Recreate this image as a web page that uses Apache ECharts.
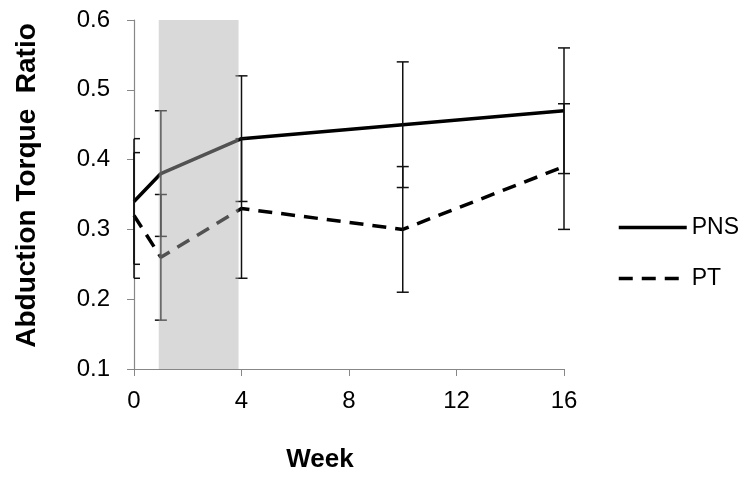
<!DOCTYPE html>
<html><head><meta charset="utf-8">
<script src="https://cdn.jsdelivr.net/npm/echarts@6/dist/echarts.min.js"></script>
<style>html,body{margin:0;padding:0;background:#fff}#c{width:751px;height:485px}</style>
</head><body><div id="c"></div>
<script>
const weeks = [0, 1, 4, 10, 16];
const pns = [0.34, 0.38, 0.43, 0.45, 0.47];
const pt = [0.32, 0.26, 0.33, 0.30, 0.39];
const pnsErr = [0.09, 0.09, 0.09, 0.09, 0.09];
const ptErr = [0.09, 0.09, 0.10, 0.09, 0.09];
const shadeWeeks = [0.92, 3.89];
const xTicks = [0, 4, 8, 12, 16];
const yTicks = [0.1, 0.2, 0.3, 0.4, 0.5, 0.6];

const FONT = 'Liberation Sans, Arial, sans-serif';
const chart = echarts.init(document.getElementById('c'));

function errData(vals, errs) {
  return weeks.map((w, i) => [w, vals[i] - errs[i], vals[i] + errs[i]]);
}
function errRender(params, api) {
  const x = api.value(0);
  const lo = api.coord([x, api.value(1)]);
  const hi = api.coord([x, api.value(2)]);
  const minX = api.coord([xTicks[0], api.value(1)])[0];
  const maxX = api.coord([xTicks[xTicks.length - 1], api.value(1)])[0];
  const hw = 6;
  const l = Math.max(lo[0] - hw, minX), r = Math.min(lo[0] + hw, maxX + hw);
  const st = { stroke: '#111', lineWidth: 1.5 };
  return { type: 'group', children: [
    { type: 'line', shape: { x1: lo[0], y1: lo[1], x2: hi[0], y2: hi[1] }, style: st },
    { type: 'line', shape: { x1: l, y1: lo[1], x2: r, y2: lo[1] }, style: st },
    { type: 'line', shape: { x1: l, y1: hi[1], x2: r, y2: hi[1] }, style: st }
  ]};
}

chart.setOption({
  animation: false,
  textStyle: { fontFamily: FONT },
  grid: { left: 134, right: 187, top: 20, bottom: 116, containLabel: false },
  legend: {
    data: ['PNS', 'PT'],
    orient: 'vertical', left: 612, top: 211,
    itemWidth: 68, itemHeight: 14, itemGap: 28,
    lineStyle: { width: 3.5 },
    itemStyle: { opacity: 0 },
    textStyle: { fontFamily: FONT, fontSize: 23, color: '#000' }
  },
  xAxis: {
    type: 'value', min: xTicks[0], max: xTicks[xTicks.length - 1], interval: 4,
    name: 'Week', nameLocation: 'middle', nameGap: 78,
    nameTextStyle: { fontFamily: FONT, fontSize: 26, fontWeight: 'bold', color: '#000', padding: [0, 58, 0, 0] },
    axisLine: { lineStyle: { color: '#878787', width: 1.2 } },
    axisTick: { show: true, length: 7, lineStyle: { color: '#878787' } },
    axisLabel: { fontFamily: FONT, fontSize: 24, color: '#000', margin: 20 },
    splitLine: { show: false }
  },
  yAxis: {
    type: 'value', min: yTicks[0], max: yTicks[yTicks.length - 1], interval: 0.1,
    name: 'Abduction Torque  Ratio', nameLocation: 'middle', nameGap: 93,
    nameTextStyle: { fontFamily: FONT, fontSize: 28, fontWeight: 'bold', color: '#000', padding: [0, 0, 0, 18] },
    axisLine: { show: true, lineStyle: { color: '#878787', width: 1.2 } },
    axisTick: { show: true, length: 7, lineStyle: { color: '#878787' } },
    axisLabel: { fontFamily: FONT, fontSize: 24, color: '#000', margin: 24, formatter: v => v.toFixed(1) },
    splitLine: { show: false }
  },
  series: [
    { name: 'PNS', type: 'line', data: weeks.map((w, i) => [w, pns[i]]), symbol: 'none',
      lineStyle: { color: '#000', width: 3.5, type: 'solid' }, itemStyle: { color: '#000' }, z: 3 },
    { name: 'PT', type: 'line', data: weeks.map((w, i) => [w, pt[i]]), symbol: 'none',
      lineStyle: { color: '#000', width: 3.5, type: [14, 9] }, itemStyle: { color: '#000' }, z: 3 },
    { name: 'PNS err', type: 'custom', data: errData(pns, pnsErr), renderItem: errRender, silent: true, z: 4 },
    { name: 'PT err', type: 'custom', data: errData(pt, ptErr), renderItem: errRender, silent: true, z: 4 },
    { name: 'shade', type: 'custom', silent: true, z: 10,
      data: [[shadeWeeks[0], shadeWeeks[1]]],
      renderItem: function (params, api) {
        const a = api.coord([api.value(0), yTicks[yTicks.length - 1]]);
        const b = api.coord([api.value(1), yTicks[0]]);
        return { type: 'rect', shape: { x: a[0], y: a[1], width: b[0] - a[0], height: b[1] - a[1] },
          style: { fill: 'rgba(175,175,175,0.47)' } };
      }
    }
  ]
});
</script></body></html>
